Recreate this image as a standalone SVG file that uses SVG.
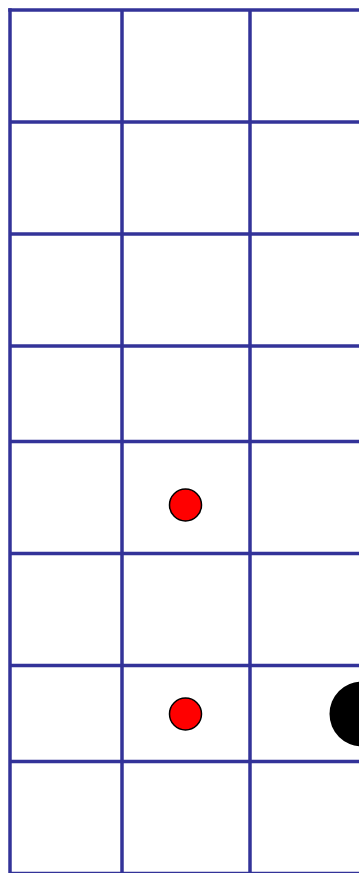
<svg xmlns="http://www.w3.org/2000/svg" width="359" height="873" viewBox="0 0 359 873">
<style>
.g{stroke:#333399;stroke-width:3.5;fill:none}
.r{fill:#ff0000;stroke:#000;stroke-width:1.5}
</style>
<rect width="359" height="873" fill="#fff"/>
<g id="grid">
<line class="g" x1="10" y1="8.25" x2="10" y2="880"/>
<line class="g" x1="122" y1="10" x2="122" y2="880"/>
<line class="g" x1="250" y1="10" x2="250" y2="880"/>
<line class="g" x1="8.25" y1="10" x2="365" y2="10"/>
<line class="g" x1="10" y1="122" x2="365" y2="122"/>
<line class="g" x1="10" y1="234" x2="365" y2="234"/>
<line class="g" x1="10" y1="346" x2="365" y2="346"/>
<line class="g" x1="10" y1="441.5" x2="365" y2="441.5"/>
<line class="g" x1="10" y1="553.5" x2="365" y2="553.5"/>
<line class="g" x1="10" y1="665.5" x2="365" y2="665.5"/>
<line class="g" x1="10" y1="761.5" x2="365" y2="761.5"/>
<line class="g" x1="10" y1="873.5" x2="365" y2="873.5"/>
</g>
<g id="dot1"><circle class="r" cx="185.5" cy="505" r="16"/></g>
<g id="dot2"><circle class="r" cx="185.5" cy="714" r="16"/></g>
<g id="ball"><circle cx="362" cy="714" r="32.5" fill="#000"/></g>
</svg>
